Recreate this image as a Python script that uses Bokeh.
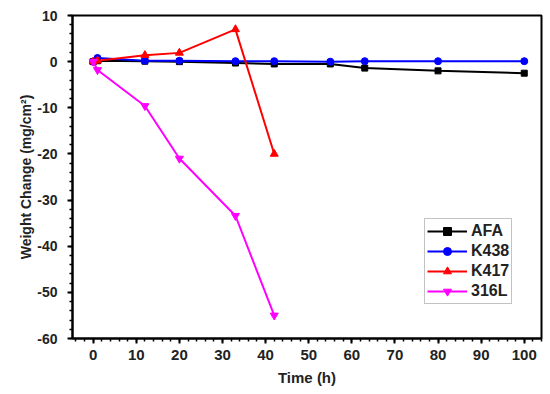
from bokeh.plotting import figure
from bokeh.models import SingleIntervalTicker, Range1d, Legend
from bokeh.embed import file_html
from bokeh.resources import INLINE

afa_x = [0, 1, 12, 20, 33, 42, 55, 63, 80, 100]
afa_y = [0, 0.2, 0.1, 0.0, -0.3, -0.5, -0.5, -1.4, -2.0, -2.5]
k438_x = [0, 1, 12, 20, 33, 42, 55, 63, 80, 100]
k438_y = [0, 0.8, 0.2, 0.2, 0.1, 0.1, 0.0, 0.1, 0.1, 0.1]
k417_x = [0, 1, 12, 20, 33, 42]
k417_y = [0, 0.2, 1.4, 1.9, 7.0, -20.0]
l316_x = [0, 1, 12, 20, 33, 42]
l316_y = [0, -1.8, -9.6, -21.0, -33.4, -55.0]

y_tick_values = [10, 0, -10, -20, -30, -40, -50, -60]
y_tick_labels = ["10", "0", "-10", "-20", "-30", "-40", "-50", "-60"]

FONT = "Liberation Sans"

p = figure(width=548, height=392, output_backend="svg", toolbar_location=None,
           x_range=Range1d(-4.8, 104), y_range=Range1d(-60, 10),
           min_border_left=72, min_border_right=7, min_border_top=15, min_border_bottom=54)
p.frame_width = 469
p.frame_height = 323
p.xgrid.visible = False
p.ygrid.visible = False
p.outline_line_color = "black"
p.outline_line_width = 2
p.background_fill_color = "white"
p.border_fill_color = "white"

p.xaxis.ticker = SingleIntervalTicker(interval=10, num_minor_ticks=5)
p.yaxis.ticker = SingleIntervalTicker(interval=10, num_minor_ticks=5)
p.yaxis.major_label_overrides = {v: s for v, s in zip(y_tick_values, y_tick_labels)}
for ax in (p.xaxis[0], p.yaxis[0]):
    ax.axis_line_width = 2
    ax.major_tick_line_width = 2
    ax.minor_tick_line_width = 1.5
    ax.major_tick_out = 5
    ax.major_tick_in = 0
    ax.minor_tick_out = 3
    ax.minor_tick_in = 0
    ax.major_label_text_font = FONT
    ax.major_label_text_font_style = "bold"
    ax.major_label_text_color = "#222222"
    ax.axis_label_text_font = FONT
    ax.axis_label_text_font_style = "bold"
    ax.axis_label_text_font_size = "15px"
    ax.axis_label_text_color = "#222222"
p.xaxis.major_label_text_font_size = "15px"
p.yaxis.major_label_text_font_size = "14px"
p.yaxis.axis_label_text_font_size = "14px"
p.xaxis.axis_label = "Time (h)"
p.yaxis.axis_label = "Weight Change (mg/cm²)"
p.xaxis.major_label_standoff = 6
p.xaxis.axis_label_standoff = 6
p.yaxis.major_label_standoff = 10
p.yaxis.axis_label_standoff = 0

items = []
series = [
    ("AFA", afa_x, afa_y, "black", "square", 6),
    ("K438", k438_x, k438_y, "#0000ff", "circle", 7),
    ("K417", k417_x, k417_y, "#ff0000", "triangle", 8),
    ("316L", l316_x, l316_y, "#ff00ff", "inverted_triangle", 8),
]
for name, xs, ys, col, mk, sz in series:
    r1 = p.line(xs, ys, line_color=col, line_width=2)
    r2 = p.scatter(xs, ys, marker=mk, size=sz, fill_color=col, line_color=col)
    items.append((name, [r1, r2]))

legend = Legend(items=items, location=(352, 34))
legend.label_text_font = FONT
legend.label_text_font_style = "bold"
legend.label_text_font_size = "16px"
legend.label_text_color = "#222222"
legend.glyph_width = 40
legend.glyph_height = 20
legend.label_height = 20
legend.label_standoff = 4
legend.spacing = 0
legend.padding = 2
legend.margin = 0
legend.border_line_color = "#888888"
legend.border_line_width = 1.5
legend.background_fill_alpha = 1
p.add_layout(legend, "center")

open("out.html", "w").write(file_html(p, INLINE))
